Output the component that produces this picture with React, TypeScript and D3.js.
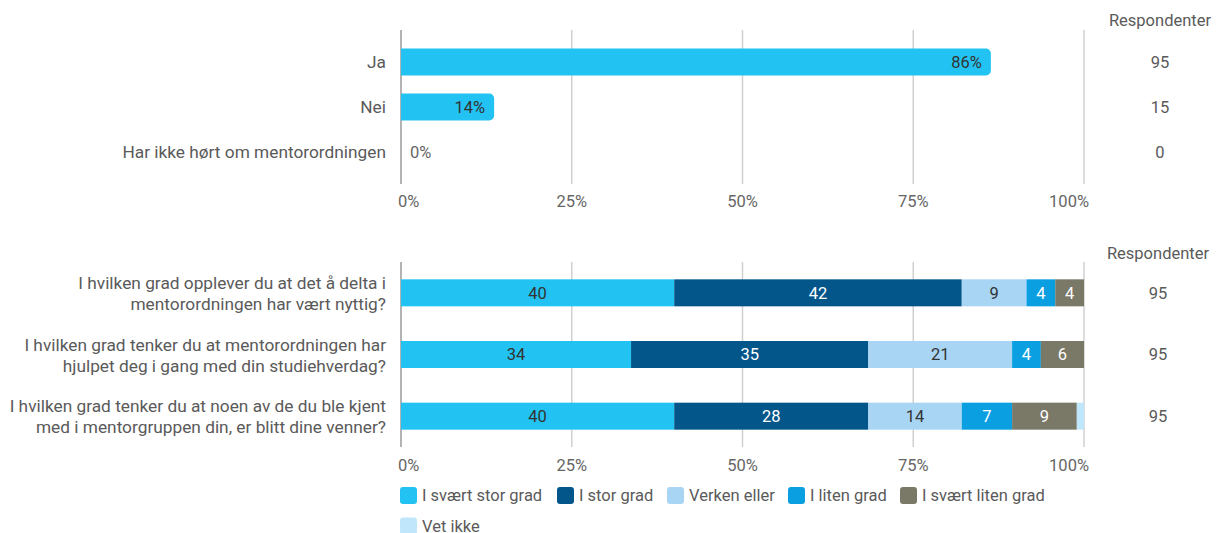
import React from 'react';
import * as d3 from 'd3';

// top chart: har du deltatt i mentorordningen
const topCategories = ['Ja', 'Nei', 'Har ikke hørt om mentorordningen'];
const topCounts = [95, 15, 0];

// bottom chart: stacked answers (counts of 95 respondents)
const questions = [
  ['I hvilken grad opplever du at det å delta i', 'mentorordningen har vært nyttig?'],
  ['I hvilken grad tenker du at mentorordningen har', 'hjulpet deg i gang med din studiehverdag?'],
  ['I hvilken grad tenker du at noen av de du ble kjent', 'med i mentorgruppen din, er blitt dine venner?'],
];
const answerKeys = ['I svært stor grad', 'I stor grad', 'Verken eller', 'I liten grad', 'I svært liten grad', 'Vet ikke'];
const answerColors = ['#22c3f2', '#03568a', '#a9d5f5', '#0a9fe0', '#7a7866', '#bfe6fb'];
const answerTextColors = ['#333', '#fff', '#333', '#fff', '#fff', '#333'];
const svaertStor = [38, 32, 38];
const stor = [40, 33, 27];
const verken = [9, 20, 13];
const liten = [4, 4, 7];
const svaertLiten = [4, 6, 9];
const vetIkke = [0, 0, 1];
const respondents = [95, 95, 95];
const tickValues = [0, 0.25, 0.5, 0.75, 1];

const FONT = 'Roboto, "Noto Sans", sans-serif';

export default function App() {
  const W = 1219, H = 533;
  const x = d3.scaleLinear().domain([0, 1]).range([401, 1084]);
  const pct = d3.format('.0%');

  // top chart
  const topTotal = d3.sum(topCounts);
  const yTop = d3.scaleBand<string>().domain(topCategories).range([44, 170]).paddingInner(0.4).paddingOuter(0.1);
  const topBh = 27;

  // bottom chart
  const series = [svaertStor, stor, verken, liten, svaertLiten, vetIkke];
  const rows = questions.map((q, i) => {
    const r: any = { q: q.join(' ') };
    answerKeys.forEach((k, j) => { r[k] = series[j][i] / respondents[i]; });
    return r;
  });
  const stacked = d3.stack().keys(answerKeys)(rows);
  const yBot = d3.scaleBand<string>().domain(rows.map(r => r.q)).range([262, 447]).paddingInner(0.56).paddingOuter(0.28);
  const botBh = 27;

  const legendX = [400, 557, 667, 788, 900, 400];
  const legendY = [495.5, 495.5, 495.5, 495.5, 495.5, 526];

  const roundedRight = (x0: number, x1: number, y0: number, h: number, r: number) => {
    const w = x1 - x0;
    const rr = Math.min(r, w / 2, h / 2);
    const p = d3.path();
    p.moveTo(x0, y0);
    p.lineTo(x1 - rr, y0);
    p.arcTo(x1, y0, x1, y0 + rr, rr);
    p.lineTo(x1, y0 + h - rr);
    p.arcTo(x1, y0 + h, x1 - rr, y0 + h, rr);
    p.lineTo(x0, y0 + h);
    p.closePath();
    return p.toString();
  };

  const tickAnchor = (t: number) => (t === 0 ? 'start' : t === 1 ? 'end' : 'middle');
  const tickDx = (t: number) => (t === 0 ? -3 : t === 1 ? 5 : 0);

  return (
    <svg width={W} height={H} style={{ position: 'absolute', left: 0, top: 0, background: '#fff' }} fontFamily={FONT}>
      {/* ---------- top chart ---------- */}
      {tickValues.map(t => (
        <line key={'gt' + t} x1={x(t)} x2={x(t)} y1={30} y2={184} stroke={t === 0 ? '#9a9a9a' : '#d0d0d0'} strokeWidth={1.5} />
      ))}
      {tickValues.map(t => (
        <text key={'tt' + t} x={x(t)} y={201} dy="0.35em" fontSize={16.5} fill="#666" textAnchor={tickAnchor(t)} dx={tickDx(t)}>{pct(t)}</text>
      ))}
      {topCategories.map((c, i) => {
        const yc = (yTop(c) ?? 0) + yTop.bandwidth() / 2;
        const v = topCounts[i] / topTotal;
        return (
          <g key={c}>
            <text x={386} y={yc} dy="0.35em" textAnchor="end" fontSize={17.3} fill="#5a5a5a">{c}</text>
            {v > 0 && <path d={roundedRight(x(0), x(v), yc - topBh / 2, topBh, 5)} fill="#22c3f2" />}
            {v > 0
              ? <text x={x(v) - 9} y={yc} dy="0.35em" textAnchor="end" fontSize={16.5} fill="#333">{pct(v)}</text>
              : <text x={x(0) + 9} y={yc} dy="0.35em" textAnchor="start" fontSize={16.5} fill="#666">{pct(v)}</text>}
            <text x={1160} y={yc} dy="0.35em" textAnchor="middle" fontSize={16.5} fill="#5a5a5a">{topCounts[i]}</text>
          </g>
        );
      })}
      <text x={1160} y={20} dy="0.35em" textAnchor="middle" fontSize={16.5} fill="#5a5a5a">Respondenter</text>

      {/* ---------- bottom chart ---------- */}
      {tickValues.map(t => (
        <line key={'gb' + t} x1={x(t)} x2={x(t)} y1={262} y2={447} stroke={t === 0 ? '#9a9a9a' : '#d0d0d0'} strokeWidth={1.5} />
      ))}
      {tickValues.map(t => (
        <text key={'tb' + t} x={x(t)} y={465} dy="0.35em" fontSize={16.5} fill="#666" textAnchor={tickAnchor(t)} dx={tickDx(t)}>{pct(t)}</text>
      ))}
      {stacked.map((s, j) => (
        <g key={s.key}>
          {s.map((d, i) => {
            const yc = (yBot(rows[i].q) ?? 0) + yBot.bandwidth() / 2;
            const v = d[1] - d[0];
            return (
              <g key={i}>
                <rect x={x(d[0])} y={yc - botBh / 2} width={Math.max(0, x(d[1]) - x(d[0]))} height={botBh} fill={answerColors[j]} />
                {v >= 0.03 && (
                  <text x={(x(d[0]) + x(d[1])) / 2} y={yc} dy="0.35em" textAnchor="middle" fontSize={16.5} fill={answerTextColors[j]}>
                    {Math.round(v * 100)}
                  </text>
                )}
              </g>
            );
          })}
        </g>
      ))}
      {questions.map((q, i) => {
        const yc = (yBot(rows[i].q) ?? 0) + yBot.bandwidth() / 2;
        return (
          <g key={'q' + i}>
            <text x={386} y={yc - 10} dy="0.35em" textAnchor="end" fontSize={17.3} fill="#5a5a5a">{q[0]}</text>
            <text x={386} y={yc + 11} dy="0.35em" textAnchor="end" fontSize={17.3} fill="#5a5a5a">{q[1]}</text>
            <text x={1158} y={yc} dy="0.35em" textAnchor="middle" fontSize={16.5} fill="#5a5a5a">{respondents[i]}</text>
          </g>
        );
      })}
      <text x={1158} y={253} dy="0.35em" textAnchor="middle" fontSize={16.5} fill="#5a5a5a">Respondenter</text>

      {/* legend */}
      {answerKeys.map((k, j) => (
        <g key={'lg' + k} transform={`translate(${legendX[j]},${legendY[j]})`}>
          <rect x={0} y={-8.5} width={17} height={17} rx={3} fill={answerColors[j]} />
          <text x={22} y={0} dy="0.35em" fontSize={16.5} fill="#5a5a5a">{k}</text>
        </g>
      ))}
    </svg>
  );
}
